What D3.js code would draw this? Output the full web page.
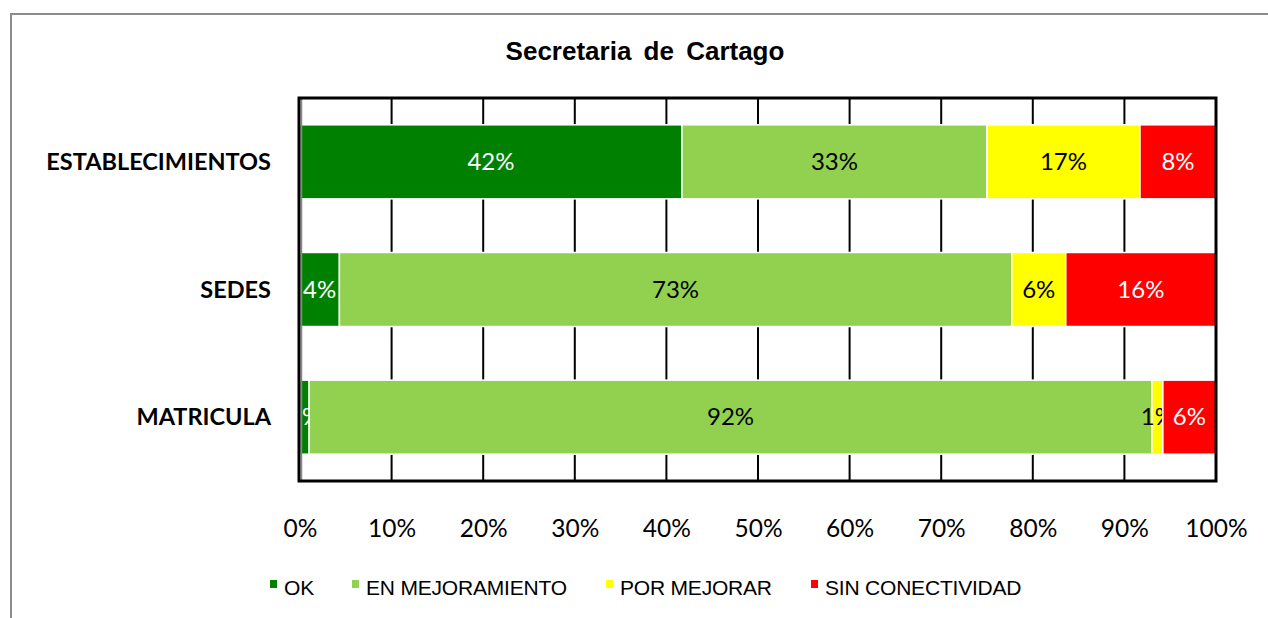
<!DOCTYPE html>
<html>
<head>
<meta charset="utf-8">
<script src="https://cdn.jsdelivr.net/npm/d3@7"></script>
<style>
  body { margin: 0; background: #fff; }
  svg { display: block; }
</style>
</head>
<body>
<div id="chartVis"></div>
<script>
// data (shares of each row, in %)
var categories = ["ESTABLECIMIENTOS", "SEDES", "MATRICULA"];
var seriesNames = ["OK", "EN MEJORAMIENTO", "POR MEJORAR", "SIN CONECTIVIDAD"];
var okValues = [41.7, 4.3, 1.0];
var mejoramientoValues = [33.3, 73.4, 92.0];
var porMejorarValues = [16.7, 5.9, 1.2];
var sinConectividadValues = [8.3, 16.4, 5.8];
var tickValues = [0, 10, 20, 30, 40, 50, 60, 70, 80, 90, 100];

var colors = ["#008000", "#92D050", "#FFFF00", "#FF0000"];
var labelColors = ["#fff", "#000", "#000", "#fff"];

var width = 1268;
var height = 618;
var margin = { top: 98, right: 52, bottom: 137, left: 300 };

var svg = d3.select("#chartVis")
  .append("svg")
  .attr("width", width)
  .attr("height", height);

// outer chart frame (runs off right and bottom)
svg.append("rect")
  .attr("x", 11).attr("y", 14)
  .attr("width", 1400).attr("height", 800)
  .attr("fill", "none")
  .attr("stroke", "#8c8c8c")
  .attr("stroke-width", 2);

svg.append("text")
  .attr("x", 645).attr("y", 60)
  .attr("text-anchor", "middle")
  .style("font-family", "'Liberation Sans', Arial, sans-serif")
  .style("font-weight", "bold")
  .style("font-size", "26px")
  .style("word-spacing", "5px")
  .text("Secretaria de Cartago");

var x = d3.scaleLinear()
  .domain([0, 100])
  .range([margin.left, width - margin.right]);

var y = d3.scaleBand()
  .domain(categories)
  .range([margin.top, height - margin.bottom])
  .paddingInner(0.42)
  .paddingOuter(0.21);

// build rows for the stack
var rows = categories.map(function(c, i) {
  return {
    cat: c,
    "OK": okValues[i],
    "EN MEJORAMIENTO": mejoramientoValues[i],
    "POR MEJORAR": porMejorarValues[i],
    "SIN CONECTIVIDAD": sinConectividadValues[i]
  };
});
var stacked = d3.stack().keys(seriesNames)(rows);

// vertical gridlines
svg.append("g")
  .selectAll("line")
  .data(tickValues.slice(1, -1))
  .enter()
  .append("line")
  .attr("x1", d => x(d)).attr("x2", d => x(d))
  .attr("y1", margin.top).attr("y2", height - margin.bottom)
  .attr("stroke", "#000")
  .attr("stroke-width", 2);

// bars
var layers = svg.append("g")
  .selectAll("g")
  .data(stacked)
  .enter()
  .append("g")
  .attr("fill", (d, i) => colors[i]);

layers.selectAll("rect")
  .data(d => d)
  .enter()
  .append("rect")
  .attr("x", d => x(d[0]))
  .attr("y", d => y(d.data.cat))
  .attr("width", d => x(d[1]) - x(d[0]))
  .attr("height", y.bandwidth())
  .attr("stroke", "#fff")
  .attr("stroke-width", 1.5);

// data labels
layers.each(function(layer, li) {
  d3.select(this).selectAll("text")
    .data(layer)
    .enter()
    .append("text")
    .attr("x", d => (x(d[0]) + x(d[1])) / 2)
    .attr("y", d => y(d.data.cat) + y.bandwidth() / 2 + 8)
    .attr("text-anchor", "middle")
    .attr("fill", labelColors[li])
    .style("font-family", "Lato, 'Open Sans', sans-serif")
    .style("font-size", "24px")
    .text(d => Math.round(d[1] - d[0]) + "%");
});

// left axis line (grey, inside the frame)
svg.append("line")
  .attr("x1", margin.left + 1.5).attr("x2", margin.left + 1.5)
  .attr("y1", margin.top).attr("y2", height - margin.bottom)
  .attr("stroke", "#888")
  .attr("stroke-width", 1.5);

// plot frame
svg.append("rect")
  .attr("x", margin.left - 1).attr("y", margin.top)
  .attr("width", width - margin.left - margin.right + 1)
  .attr("height", height - margin.top - margin.bottom)
  .attr("fill", "none")
  .attr("stroke", "#000")
  .attr("stroke-width", 3);

// x axis labels
var xAxis = svg.append("g")
  .attr("transform", "translate(0," + (height - margin.bottom) + ")")
  .call(d3.axisBottom(x).tickValues(tickValues).tickSize(0).tickPadding(39).tickFormat(d => d + "%"));
xAxis.select(".domain").remove();
xAxis.selectAll("text")
  .attr("fill", "#000")
  .style("font-family", "Lato, 'Open Sans', sans-serif")
  .style("font-size", "24.5px");

// category labels
var yAxis = svg.append("g")
  .attr("transform", "translate(" + (margin.left - 29) + ",0)")
  .call(d3.axisLeft(y).tickSize(0).tickPadding(0));
yAxis.select(".domain").remove();
yAxis.selectAll("text")
  .attr("fill", "#000")
  .attr("dy", "0.35em")
  .style("font-family", "Lato, 'Open Sans', sans-serif")
  .style("font-weight", "bold")
  .style("font-size", "23.5px");

// legend
var legendX = [270, 352, 606, 811];
var legend = svg.append("g")
  .selectAll("g")
  .data(seriesNames)
  .enter()
  .append("g")
  .attr("transform", (d, i) => "translate(" + legendX[i] + ",588)");

legend.append("rect")
  .attr("x", 0).attr("y", -8)
  .attr("width", 7).attr("height", 8)
  .attr("fill", (d, i) => colors[i]);

legend.append("text")
  .attr("x", 14).attr("y", 7)
  .style("font-family", "'Liberation Sans', Arial, sans-serif")
  .style("font-size", "21px")
  .style("letter-spacing", "-0.2px")
  .text(d => d);
</script>
</body>
</html>
